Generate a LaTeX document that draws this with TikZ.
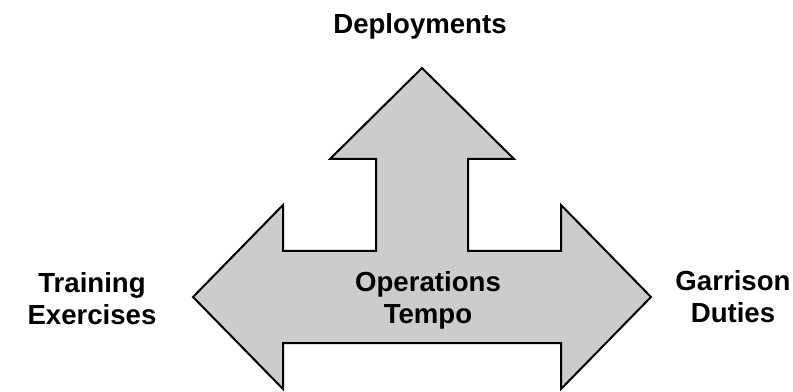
\documentclass[tikz,border=0pt]{standalone}
\usepackage{fontspec}
\setmainfont{Liberation Sans}
\usepackage{tikz}
\usetikzlibrary{positioning, calc}

\tikzset{
    lbl/.style={font=\fontsize{20.7pt}{23.3pt}\selectfont\bfseries, align=center, inner sep=0pt, anchor=base},
    bigarrow/.style={draw=black, line width=1.5pt, line join=miter, fill={rgb,255:red,204;green,204;blue,204}}
}

\begin{document}
\begin{tikzpicture}[x=0.75pt, y=-0.75pt]
        \useasboundingbox (0, 0) rectangle (793, 392);

        % arrow
        \draw[bigarrow]
            (422, 68) -- (514, 159) -- (468, 159) -- (468, 251)
            -- (561, 251) -- (561, 205) -- (651, 297) -- (561, 389)
            -- (561, 343) -- (283, 343) -- (283, 389) -- (193, 297)
            -- (283, 205) -- (283, 251) -- (376, 251) -- (376, 159)
            -- (330, 159) -- cycle;

        \node[lbl] (dep) at (420, 34) {Deployments}; % up
        \node[lbl] (ops) at (428, 323) {Operations\\Tempo}; % centre
        \node[lbl] (tr) at (92, 324) {Training\\Exercises}; % left
        \node[lbl] (gar) at (733, 322) {Garrison\\Duties}; % right
    \end{tikzpicture}
\end{document}
